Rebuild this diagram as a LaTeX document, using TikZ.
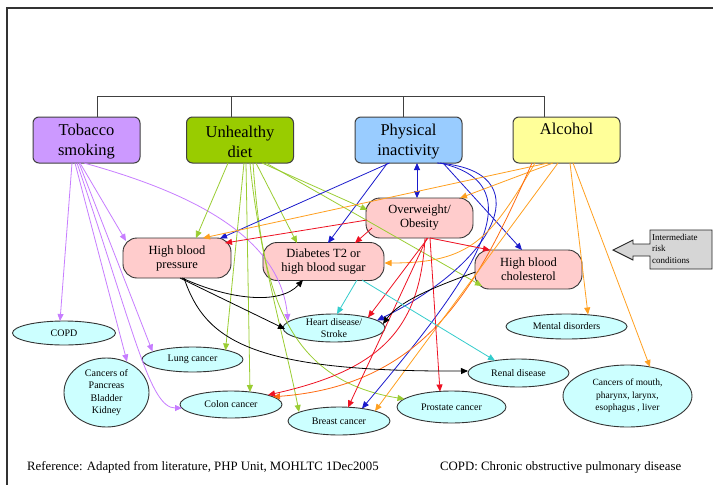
\documentclass[tikz,border=0pt]{standalone}
\usepackage{fontspec}
\setmainfont{Liberation Serif}
\usetikzlibrary{arrows.meta,shapes.geometric}

\definecolor{tobfill}{HTML}{CC99FF}
\definecolor{dietfill}{HTML}{99CC00}
\definecolor{physfill}{HTML}{99CCFF}
\definecolor{alcfill}{HTML}{FFFF99}
\definecolor{condfill}{HTML}{FFCCCC}
\definecolor{outfill}{HTML}{CCFFFF}
\definecolor{notefill}{HTML}{D6D6D6}
\definecolor{tobline}{HTML}{C77DFF}
\definecolor{dietline}{HTML}{9ACD32}
\definecolor{physline}{HTML}{1A1ACC}
\definecolor{alcline}{HTML}{FFA020}
\definecolor{alcdark}{HTML}{FF6A10}
\definecolor{obeline}{HTML}{EE1122}
\definecolor{dialine}{HTML}{33CCCC}

\begin{document}
\begin{tikzpicture}[x=1pt,y=-1pt,
  riskbox/.style={draw=black!75, line width=1pt, rounded corners=6pt,
    minimum width=107pt, minimum height=46pt, inner sep=0pt, align=center,
    font=\fontsize{16.5}{20}\selectfont},
  midbox/.style={draw=black!80, line width=0.9pt, fill=condfill,
    rounded corners=14pt, inner sep=0pt, align=center,
    font=\fontsize{12.5}{14}\selectfont},
  outcome/.style={ellipse, draw=black!80, line width=0.9pt, fill=outfill,
    inner sep=0pt, align=center, font=\fontsize{10}{12.5}\selectfont},
  link/.style={line width=0.8pt, -{Triangle[length=7pt,width=6pt]}},
  bothlink/.style={line width=0.8pt,
    {Triangle[length=7pt,width=6pt]}-{Triangle[length=7pt,width=6pt]}},
]
\useasboundingbox (0,0) rectangle (713,485);
\fill[white] (0,0) rectangle (713,485);

% outer frame
\draw[line width=1.2pt, black!80] (7,485) -- (7,8) -- (713,8);

% risk factors
\node[riskbox, fill=tobfill]  (tob)  at (86.5,140) {\rule{0pt}{15pt}Tobacco\\smoking};
\node[riskbox, fill=dietfill] (diet) at (240,140)  {\rule{0pt}{15pt}Unhealthy\\diet};
\node[riskbox, fill=physfill] (phys) at (408.5,140) {\rule{0pt}{15pt}Physical\\inactivity};
\node[riskbox, fill=alcfill]  (alc)  at (566.5,140) {\rule{0pt}{15pt}Alcohol\\\strut};

% bracket joining the risk factors
\draw[line width=1pt, black!75] ([xshift=10.5pt]tob.north) -- ++(0,-20)
  -| ([xshift=-22.5pt]alc.north);
\draw[line width=1pt, black!75] ([xshift=-9pt]diet.north) -- ++(0,-20);
\draw[line width=1pt, black!75] ([xshift=-5.5pt]phys.north) -- ++(0,-20);

% intermediate risk conditions
\node[midbox, minimum width=108pt, minimum height=40pt] (hbp) at (177,258) {High blood\\pressure};
\node[midbox, minimum width=121pt, minimum height=38pt] (dia) at (323.5,261.5) {Diabetes T2 or\\high blood sugar};
\node[midbox, minimum width=107pt, minimum height=40pt] (obe) at (419.5,218) {Overweight/\\Obesity};
\node[midbox, minimum width=107pt, minimum height=39pt] (chol) at (528.5,269.5) {High blood\\cholesterol};

% outcomes
\node[outcome, minimum width=103pt, minimum height=24pt] (copd) at (64,333) {COPD};
\node[outcome, minimum width=102pt, minimum height=28pt] (heart) at (334,328) {Heart disease/\\Stroke};
\node[outcome, minimum width=121pt, minimum height=25pt] (mental) at (566.5,326.5) {Mental disorders};
\node[outcome, minimum width=101pt, minimum height=25pt] (lung) at (192.5,359.5) {Lung cancer};
\node[outcome, minimum width=85pt, minimum height=69pt] (panc) at (106.5,392.5) {Cancers of\\Pancreas\\Bladder\\Kidney};
\node[outcome, minimum width=102pt, minimum height=27pt] (colon) at (231,404.5) {Colon cancer};
\node[outcome, minimum width=102pt, minimum height=28pt] (breast) at (339,421) {Breast cancer};
\node[outcome, minimum width=109pt, minimum height=32pt] (prostate) at (451.5,407) {Prostate cancer};
\node[outcome, minimum width=101pt, minimum height=28pt] (renal) at (518.5,373) {Renal disease};
\node[outcome, minimum width=129pt, minimum height=62pt, font=\fontsize{9.5}{12.5}\selectfont] (mouth) at (627.5,396) {Cancers of mouth,\\pharynx, larynx,\\esophagus , liver};

% legend arrow pointing at the intermediate conditions
\draw[line width=0.9pt, black!85, fill=notefill]
  (613,250) -- (633,240) -- (633,244) -- (650,244) -- (650,230) -- (712,230)
  -- (712,269) -- (650,269) -- (650,256) -- (633,256) -- (633,260) -- cycle;
\node[anchor=north west, inner sep=0pt, align=left,
  font=\fontsize{9}{11.5}\selectfont] (inter) at (652,234) {Intermediate\\risk\\conditions};

% tobacco
\draw[link, tobline] ([shift={(-14.5,23)}]tob.center) -- ([shift={(-4,-12)}]copd.center);
\draw[link, tobline] ([shift={(-6.5,23)}]tob.center) -- ([shift={(-51,-17)}]hbp.center);
\draw[link, tobline] ([shift={(-2.5,23)}]tob.center) .. controls (200,195) and (280,240) .. ([shift={(-46,-7)}]heart.center);
\draw[link, tobline] ([shift={(-7.5,23)}]tob.center) -- ([shift={(-40,-8)}]lung.center);
\draw[link, tobline] ([shift={(-11.5,23)}]tob.center) -- ([shift={(20.5,-31)}]panc.center);
\draw[link, tobline] ([shift={(-9.5,23)}]tob.center) .. controls (135,335) and (150,408) .. ([shift={(-49,3.5)}]colon.center);

% unhealthy diet
\draw[link, dietline] ([shift={(-12,23)}]diet.center) -- ([shift={(19,-20)}]hbp.center);
\draw[link, dietline] ([shift={(4,23)}]diet.center) -- ([shift={(33,-9)}]lung.center);
\draw[link, dietline] ([shift={(6,23)}]diet.center) -- ([shift={(19,-12.5)}]colon.center);
\draw[link, dietline] ([shift={(10,23)}]diet.center) .. controls (258,250) and (285,340) .. ([shift={(-40,-9)}]breast.center);
\draw[link, dietline] ([shift={(13,23)}]diet.center) .. controls (262,290) and (285,380) .. ([shift={(-47,-8)}]prostate.center);
\draw[link, dietline] ([shift={(16,23)}]diet.center) -- ([shift={(-26.5,-18.5)}]dia.center);
\draw[link, dietline] ([shift={(22,23)}]diet.center) -- ([shift={(-52,-8)}]obe.center);
\draw[link, dietline] ([shift={(26,23)}]diet.center) -- ([shift={(-46.5,16.5)}]chol.center);

% physical inactivity
\draw[bothlink, physline] ([shift={(8.5,23)}]phys.center) -- ([shift={(-2.5,-20)}]obe.center);
\draw[link, physline] ([shift={(-19,23)}]phys.center) -- ([shift={(43,-19.5)}]hbp.center);
\draw[link, physline] ([shift={(-21,23)}]phys.center) -- ([shift={(4.5,-18.5)}]dia.center);
\draw[link, physline] ([shift={(34.5,23)}]phys.center) -- ([shift={(-6.5,-19.5)}]chol.center);
\draw[link, physline] ([shift={(28.5,23)}]phys.center) .. controls (540,170) and (500,260) .. ([shift={(43,-7.5)}]heart.center);
\draw[link, physline] ([shift={(31.5,23)}]phys.center) .. controls (540,185) and (470,280) .. ([shift={(23,-12.5)}]breast.center);

% alcohol
\draw[link, alcline] ([shift={(-18.5,23)}]alc.center) -- ([shift={(26,-20)}]hbp.center);
\draw[link, alcline] ([shift={(-13.5,23)}]alc.center) -- ([shift={(40.5,-20)}]obe.center);
\draw[link, alcline] ([shift={(-31.5,23)}]alc.center) .. controls (490,240) and (470,263) .. ([shift={(61,1.5)}]dia.center);
\draw[link, alcdark] ([shift={(-34.5,23)}]alc.center) .. controls (480,280) and (430,385) .. ([shift={(42,-7.7)}]colon.center);
\draw[link, alcline] ([shift={(-8.5,23)}]alc.center) -- ([shift={(36,-10)}]breast.center);
\draw[link, alcline] ([shift={(3.5,23)}]alc.center) -- ([shift={(21.5,-12)}]mental.center);
\draw[link, alcline] ([shift={(6.5,23)}]alc.center) -- ([shift={(22.5,-29)}]mouth.center);

% overweight / obesity
\draw[link, obeline] ([shift={(-52.5,2)}]obe.center) -- ([shift={(48,-15)}]hbp.center);
\draw[link, obeline] ([shift={(-47.5,10)}]obe.center) -- ([shift={(31.5,-18.5)}]dia.center);
\draw[link, obeline] ([shift={(10.5,20)}]obe.center) -- ([shift={(-38.5,-19.5)}]chol.center);
\draw[link, obeline] ([shift={(8.5,20)}]obe.center) -- ([shift={(34,-10.5)}]heart.center);
\draw[link, obeline] ([shift={(5.5,20)}]obe.center) .. controls (420,330) and (380,370) .. ([shift={(37,-9.5)}]colon.center);
\draw[link, obeline] ([shift={(7.5,20)}]obe.center) -- ([shift={(9,-13.5)}]breast.center);
\draw[link, obeline] ([shift={(10.5,20)}]obe.center) -- ([shift={(-11.5,-15.5)}]prostate.center);

% high blood pressure
\draw[link, black] ([shift={(5,20)}]hbp.center) .. controls (230,300) and (280,305) .. ([shift={(-20.5,18.5)}]dia.center);
\draw[link, black] ([shift={(3,20)}]hbp.center) -- ([shift={(-49,1)}]heart.center);
\draw[link, black] ([shift={(7,20)}]hbp.center) .. controls (205,340) and (250,372) .. ([shift={(-50.5,-2)}]renal.center);

% high blood cholesterol
\draw[link, black] ([shift={(-53,2.5)}]chol.center) .. controls (440,285) and (400,300) .. ([shift={(49,-4)}]heart.center);

% diabetes
\draw[link, dialine] ([shift={(33.5,18.5)}]dia.center) -- ([shift={(3,-14)}]heart.center);
\draw[link, dialine] ([shift={(38.5,18.5)}]dia.center) -- ([shift={(-23.5,-12.4)}]renal.center);

% footer
\node[anchor=base west, inner sep=0pt, font=\fontsize{12.8}{15}\selectfont] (refnote) at (27,470)
  {Reference: Adapted from literature, PHP Unit, MOHLTC 1Dec2005};
\node[anchor=base west, inner sep=0pt, font=\fontsize{12.8}{15}\selectfont] (copdnote) at (440,470)
  {COPD: Chronic obstructive pulmonary disease};
\end{tikzpicture}
\end{document}
